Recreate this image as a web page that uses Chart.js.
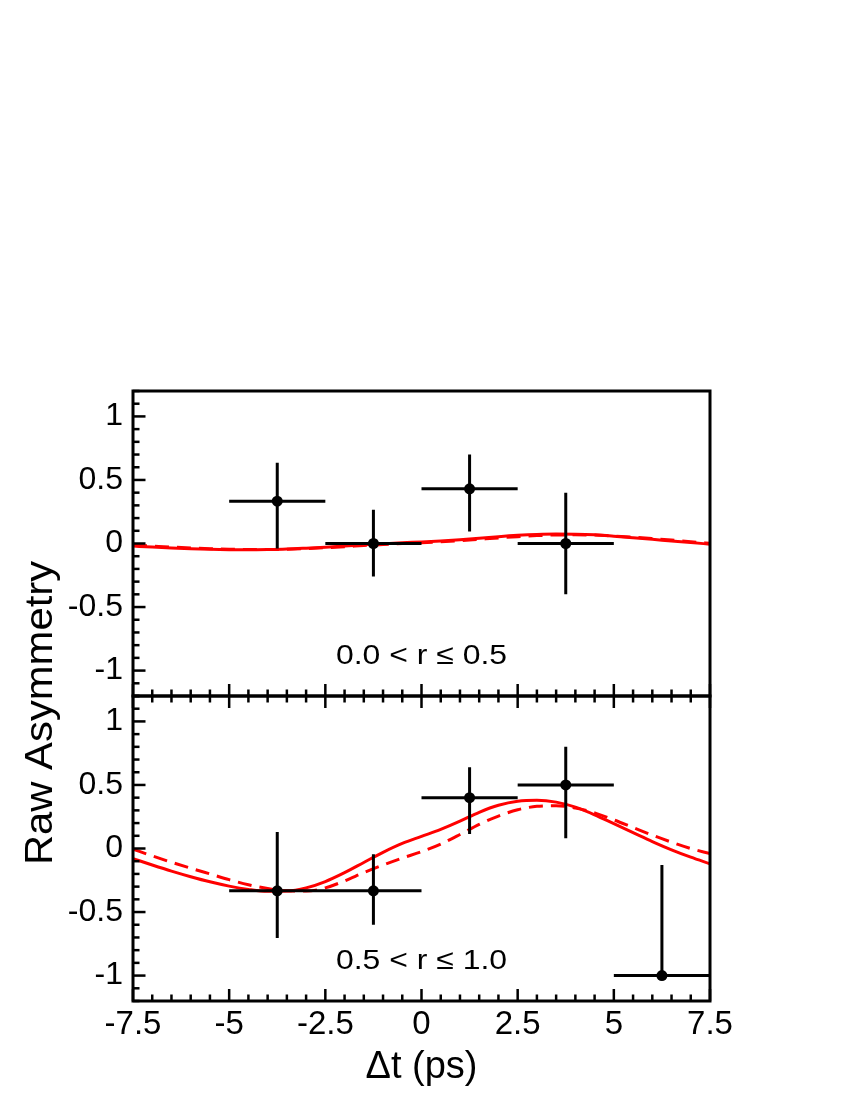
<!DOCTYPE html>
<html><head><meta charset="utf-8">
<script src="https://cdn.jsdelivr.net/npm/chart.js@4/dist/chart.umd.min.js"></script>
<style>html,body{margin:0;padding:0;background:#fff}canvas{display:block}</style>
</head><body>
<canvas id="c" width="850" height="1100"></canvas>
<script>
// ---------- data ----------
const curveX = [-7.5,-7,-6.5,-6,-5.5,-5,-4.5,-4,-3.5,-3,-2.5,-2,-1.5,-1,-0.5,0,0.5,1,1.5,2,2.5,3,3.5,4,4.5,5,5.5,6,6.5,7,7.5];
const topSolid  = [-0.020,-0.028,-0.035,-0.041,-0.046,-0.049,-0.050,-0.048,-0.044,-0.037,-0.029,-0.020,-0.010,-0.002,0.006,0.012,0.020,0.030,0.042,0.054,0.064,0.071,0.074,0.073,0.068,0.058,0.046,0.033,0.020,0.007,-0.005];
const topDashed = [-0.012,-0.020,-0.028,-0.035,-0.041,-0.045,-0.047,-0.047,-0.045,-0.040,-0.033,-0.025,-0.016,-0.008,0.000,0.006,0.013,0.022,0.033,0.044,0.054,0.062,0.067,0.068,0.066,0.059,0.050,0.039,0.027,0.014,0.002];
const botSolid  = [-0.08,-0.13,-0.178,-0.222,-0.262,-0.296,-0.322,-0.337,-0.335,-0.31,-0.26,-0.19,-0.11,-0.03,0.04,0.095,0.15,0.215,0.285,0.34,0.372,0.38,0.365,0.325,0.265,0.195,0.125,0.055,-0.01,-0.068,-0.12];
const botDashed = [-0.005,-0.058,-0.108,-0.155,-0.20,-0.245,-0.285,-0.315,-0.333,-0.335,-0.31,-0.255,-0.19,-0.13,-0.075,-0.025,0.035,0.11,0.19,0.255,0.305,0.332,0.337,0.318,0.28,0.225,0.165,0.105,0.05,0.00,-0.04];

const binCenters = [-3.75,-1.25,1.25,3.75,6.25];
const binLow     = [-5,-2.5,0,2.5,5];
const binHigh    = [-2.5,0,2.5,5,7.5];

const topY     = [0.333,0.0,0.43,0.0];
const topYLow  = [-0.04,-0.26,0.095,-0.40];
const topYHigh = [0.635,0.265,0.70,0.40];

const botY     = [-0.333,-0.333,0.40,0.50,-1.0];
const botYLow  = [-0.705,-0.60,0.115,0.08,-1.0];
const botYHigh = [0.13,-0.045,0.64,0.80,-0.13];

const xTicks = [-7.5,-5,-2.5,0,2.5,5,7.5];
const yTicks = [-1,-0.5,0,0.5,1];
const panelLabels = ['0.0 < r \u2264 0.5','0.5 < r \u2264 1.0'];
const xTitle = '\u0394t (ps)';
const yTitle = 'Raw Asymmetry';

// ---------- helpers ----------
function pts(xs, ys){ return xs.map((x,i)=>({x:x, y:ys[i]})); }
function errSegments(yv, yl, yh){
  const d = [];
  for (let i=0;i<yv.length;i++){
    d.push({x:binLow[i],y:yv[i]},{x:binHigh[i],y:yv[i]},{x:binCenters[i],y:null},
           {x:binCenters[i],y:yl[i]},{x:binCenters[i],y:yh[i]},{x:binCenters[i],y:null});
  }
  return d;
}
const RED = '#ff0000';
const FONT = 'Liberation Sans, Arial, Helvetica, sans-serif';

// ---------- plugins ----------
const framePlugin = {
  id:'frame',
  afterDatasetsDraw(chart){
    const {ctx, chartArea:a, scales} = chart;
    const xs = scales.x;
    ctx.save();
    ctx.strokeStyle = '#000';
    ctx.lineCap = 'butt';
    ctx.lineWidth = 2.5;
    const panels = [scales.yTop, scales.yBot];
    panels.forEach((ys, pi) => {
      for (let k=0;k<=30;k++){
        const v = -7.5 + 0.5*k;
        const px = xs.getPixelForValue(v);
        const len = (k%5===0) ? 12 : 6.5;
        ctx.beginPath(); ctx.moveTo(px, ys.bottom); ctx.lineTo(px, ys.bottom-len); ctx.stroke();
        if (pi===1){
          ctx.beginPath(); ctx.moveTo(px, ys.top); ctx.lineTo(px, ys.top+len); ctx.stroke();
        }
      }
      for (let k=-12;k<=12;k++){
        const py = ys.getPixelForValue(k/10);
        const len = (k%5===0) ? 12.5 : 6.5;
        ctx.beginPath(); ctx.moveTo(a.left, py); ctx.lineTo(a.left+len, py); ctx.stroke();
      }
    });
    ctx.lineWidth = 3;
    panels.forEach(ys => { ctx.strokeRect(a.left, ys.top, a.right-a.left, ys.bottom-ys.top); });
    ctx.restore();
  },
  afterDraw(chart){
    const {ctx, scales} = chart;
    ctx.save();
    ctx.fillStyle = '#000';
    [scales.yTop, scales.yBot].forEach((ys, i) => {
      const px = scales.x.getPixelForValue(0);
      const py = ys.getPixelForValue(-0.945);
      ctx.save();
      ctx.translate(px, py);
      ctx.scale(1.14, 1);
      ctx.font = '28px ' + FONT;
      ctx.textAlign = 'center';
      ctx.textBaseline = 'alphabetic';
      ctx.fillText(panelLabels[i], 0, 0);
      ctx.restore();
    });
    const a = chart.chartArea;
    ctx.save();
    ctx.translate(52, (a.top + a.bottom)/2 + 17);
    ctx.rotate(-Math.PI/2);
    ctx.scale(1.1, 1);
    ctx.font = '38px ' + FONT;
    ctx.textAlign = 'center';
    ctx.textBaseline = 'alphabetic';
    ctx.fillText(yTitle, 0, 0);
    ctx.restore();
    ctx.restore();
  }
};

function yScale(){
  return {
    type:'linear', position:'left', stack:'panels', stackWeight:1,
    min:-1.2, max:1.2,
    grid:{display:false, drawTicks:false},
    border:{display:false},
    afterFit(s){ s.width = 133; },
    afterBuildTicks(s){ s.ticks = yTicks.map(v=>({value:v})); },
    ticks:{ padding:10, color:'#000', font:{family:FONT, size:32}, callback:(v)=>String(v) }
  };
}

new Chart(document.getElementById('c'), {
  type:'line',
  data:{ datasets:[
    {label:'top pts', data:pts(binCenters.slice(0,4), topY), yAxisID:'yTop', showLine:false, pointRadius:5.5, pointBackgroundColor:'#000', pointBorderWidth:0, order:0},
    {label:'bot pts', data:pts(binCenters, botY), yAxisID:'yBot', showLine:false, pointRadius:5.5, pointBackgroundColor:'#000', pointBorderWidth:0, order:0},
    {label:'top err', data:errSegments(topY, topYLow, topYHigh), yAxisID:'yTop', borderColor:'#000', borderWidth:3, pointRadius:0, spanGaps:false, tension:0, order:1},
    {label:'bot err', data:errSegments(botY, botYLow, botYHigh), yAxisID:'yBot', borderColor:'#000', borderWidth:3, pointRadius:0, spanGaps:false, tension:0, order:1},
    {label:'top solid', data:pts(curveX, topSolid), yAxisID:'yTop', borderColor:RED, borderWidth:3, pointRadius:0, cubicInterpolationMode:'monotone', order:2},
    {label:'top dashed', data:pts(curveX, topDashed), yAxisID:'yTop', borderColor:RED, borderWidth:3, borderDash:[14,8], pointRadius:0, cubicInterpolationMode:'monotone', order:2},
    {label:'bot solid', data:pts(curveX, botSolid), yAxisID:'yBot', borderColor:RED, borderWidth:3, pointRadius:0, cubicInterpolationMode:'monotone', order:2},
    {label:'bot dashed', data:pts(curveX, botDashed), yAxisID:'yBot', borderColor:RED, borderWidth:3, borderDash:[14,8], pointRadius:0, cubicInterpolationMode:'monotone', order:2}
  ]},
  options:{
    responsive:false, animation:false, devicePixelRatio:1,
    layout:{ padding:{top:391, right:140, left:0, bottom:0} },
    plugins:{ legend:{display:false}, tooltip:{enabled:false} },
    scales:{
      x:{
        type:'linear', position:'bottom', min:-7.5, max:7.5,
        grid:{display:false, drawTicks:false},
        border:{display:false},
        afterFit(s){ s.height = 99; },
        afterBuildTicks(s){ s.ticks = xTicks.map(v=>({value:v})); },
        ticks:{ padding:4, color:'#000', font:{family:FONT, size:33}, maxRotation:0, autoSkip:false, callback:(v)=>String(v) },
        title:{ display:true, text:xTitle, color:'#000', font:{family:FONT, size:38}, padding:{top:0, bottom:10} }
      },
      yBot: yScale(),
      yTop: yScale()
    }
  },
  plugins:[framePlugin]
});
</script>
</body></html>
